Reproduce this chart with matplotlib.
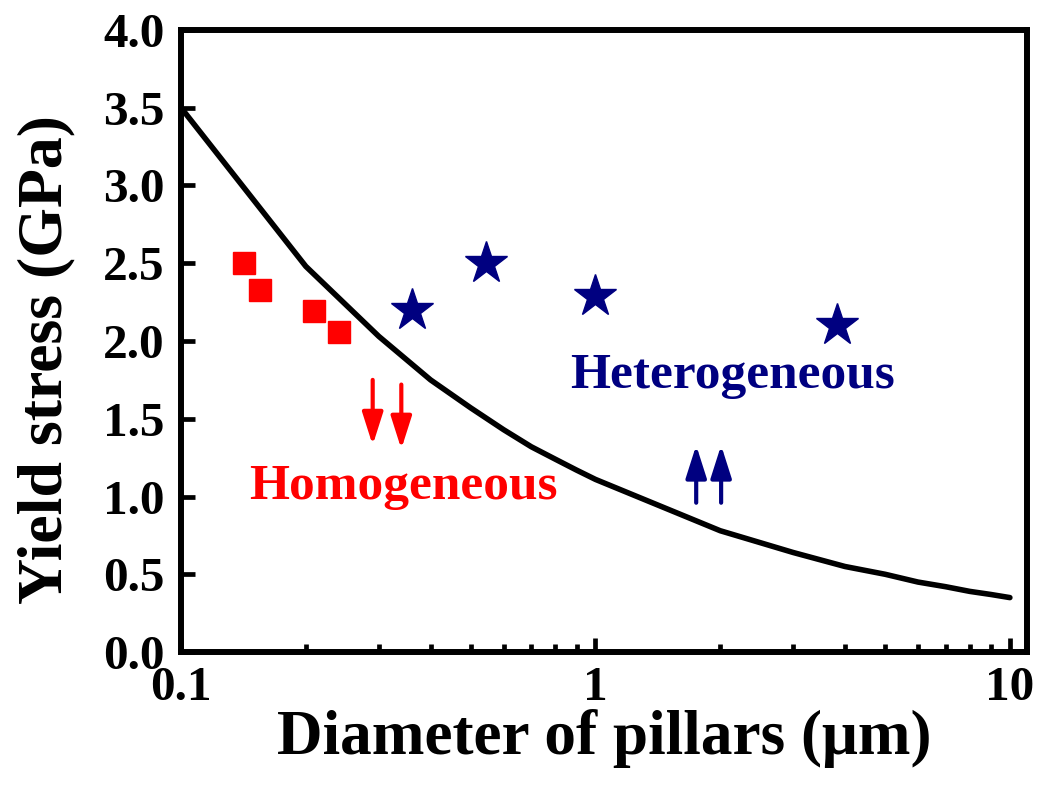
import matplotlib
matplotlib.use("Agg")
import matplotlib.pyplot as plt

plt.rcParams['font.family'] = ['Liberation Serif', 'DejaVu Serif']
plt.rcParams['font.weight'] = 'bold'

# model curve
d_fit = [0.1, 0.2, 0.3, 0.4, 0.5, 0.6, 0.7, 0.8, 0.9, 1, 2, 3, 4, 5, 6, 7, 8, 9, 10]
s_fit = [3.5, 2.48, 2.03, 1.75, 1.57, 1.43, 1.32, 1.24, 1.17, 1.11,
         0.78, 0.64, 0.55, 0.50, 0.45, 0.42, 0.39, 0.37, 0.35]

# homogeneous (red squares)
d_homo = [0.142, 0.155, 0.209, 0.240]
s_homo = [2.50, 2.33, 2.19, 2.06]

# heterogeneous (navy stars)
d_het = [0.36, 0.545, 1.0, 3.82]
s_het = [2.20, 2.50, 2.29, 2.10]

# arrows: x, y_start, y_end
arr_red = [(0.29, 1.75, 1.33), (0.34, 1.72, 1.305)]
arr_blue = [(1.75, 0.96, 1.33), (2.01, 0.96, 1.33)]

fig = plt.figure(figsize=(10.37, 7.87), dpi=100)
ax = fig.add_axes([0.1746, 0.1715, 0.8158, 0.7904])

ax.plot(d_fit, s_fit, color='black', lw=4, solid_capstyle='round')
ax.plot(d_homo, s_homo, ls='none', marker='s', ms=16.5, color='#ff0000')
ax.plot(d_het, s_het, ls='none', marker='*', ms=32, color='#000080')

astyle = '-|>,head_width=0.35,head_length=1.1'
for x, y0, y1 in arr_red:
    ax.annotate('', xy=(x, y1), xytext=(x, y0),
                arrowprops=dict(arrowstyle=astyle, color='#ff0000', lw=3,
                                mutation_scale=18, shrinkA=0, shrinkB=0))
for x, y0, y1 in arr_blue:
    ax.annotate('', xy=(x, y1), xytext=(x, y0),
                arrowprops=dict(arrowstyle=astyle, color='#000080', lw=3,
                                mutation_scale=18, shrinkA=0, shrinkB=0))

ax.text(0.344, 0.984, 'Homogeneous', color='#ff0000', fontsize=37,
        fontweight='bold', ha='center', va='baseline')
ax.text(2.147, 1.698, 'Heterogeneous', color='#000080', fontsize=37,
        fontweight='bold', ha='center', va='baseline')

ax.set_xscale('log')
ax.set_xlim(0.1, 11)
ax.set_ylim(0, 4.0)
ax.set_xticks([0.1, 1, 10])
ax.set_xticklabels(['0.1', '1', '10'])
ax.set_yticks([0, 0.5, 1.0, 1.5, 2.0, 2.5, 3.0, 3.5, 4.0])
ax.set_yticklabels(['0.0', '0.5', '1.0', '1.5', '2.0', '2.5', '3.0', '3.5', '4.0'])

for s in ax.spines.values():
    s.set_linewidth(4.3)
ax.tick_params(axis='both', which='major', direction='in', length=10, width=3.4,
               labelsize=35.5, pad=12)
ax.tick_params(axis='x', which='minor', direction='in', length=6, width=3.4)
ax.tick_params(axis='x', which='major', pad=10)
for lab in ax.get_xticklabels() + ax.get_yticklabels():
    lab.set_fontweight('bold')

ax.set_xlabel('Diameter of pillars (\u03bcm)', fontsize=45.5, fontweight='bold')
ax.set_ylabel('Yield stress (GPa)', fontsize=46, fontweight='bold')
ax.xaxis.set_label_coords(0.5, -0.091)
ax.yaxis.set_label_coords(-0.125, 0.47)

fig.savefig('out.png', dpi=100)
